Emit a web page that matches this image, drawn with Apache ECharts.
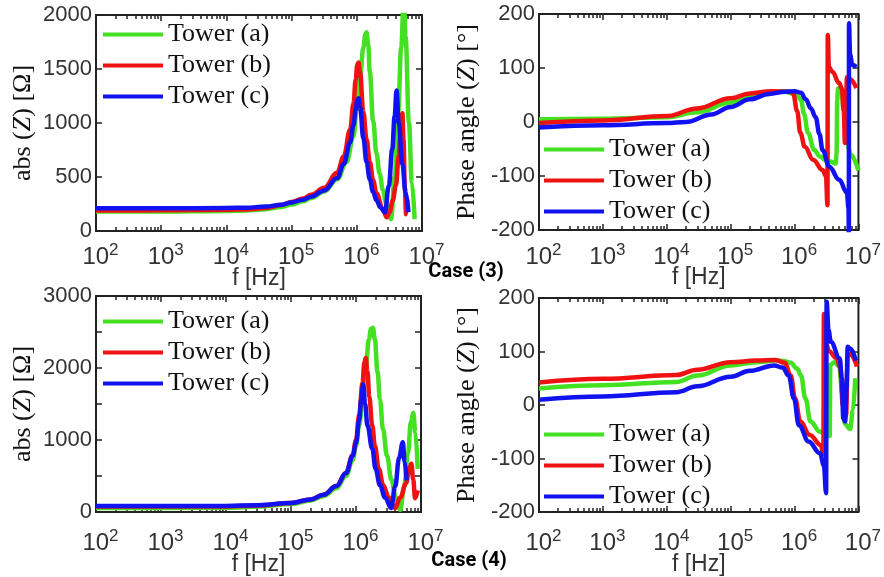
<!DOCTYPE html>
<html><head><meta charset="utf-8">
<script src="https://cdn.jsdelivr.net/npm/echarts@6/dist/echarts.min.js"></script>
<style>html,body{margin:0;padding:0;background:#fff}#c{width:884px;height:577px}</style>
</head><body><div id="c"></div>
<script>
const towerNames = ['Tower (a)', 'Tower (b)', 'Tower (c)'];

// Case (3) |Z| [Ohm] vs f [Hz]
const case3AbsA = [[100,180],[1e3,181],[1e4,186],[2e4,190],[4e4,202],[7e4,222],[1e5,245],[1.5e5,275],[2e5,305],[3.16e5,365],[5e5,480],[7e5,640],[8.9e5,880],[1e6,1120],[1.12e6,1420],[1.26e6,1700],[1.35e6,1820],[1.41e6,1840],[1.5e6,1720],[1.58e6,1480],[1.78e6,1020],[2e6,720],[2.24e6,530],[2.51e6,380],[2.82e6,260],[3.16e6,150],[3.35e6,110],[3.8e6,500],[4.3e6,1100],[4.8e6,1700],[5.25e6,2150],[5.6e6,1800],[6.3e6,1000],[7.0e6,450],[7.7e6,110]];
const case3AbsB = [[100,190],[1e3,191],[1e4,196],[2e4,200],[4e4,214],[7e4,240],[1e5,268],[1.5e5,300],[2e5,335],[3.16e5,400],[5e5,540],[6.3e5,690],[7.9e5,940],[8.9e5,1180],[9.6e5,1400],[1.02e6,1540],[1.06e6,1560],[1.12e6,1470],[1.26e6,1100],[1.41e6,850],[1.58e6,640],[1.78e6,470],[2e6,350],[2.51e6,200],[2.88e6,127],[3.16e6,170],[3.55e6,280],[3.98e6,420],[4.4e6,700],[4.8e6,1000],[5.0e6,1090],[5.2e6,850],[5.45e6,400],[5.7e6,155],[5.95e6,290]];
const case3AbsC = [[100,210],[1e3,210],[1e4,213],[2e4,216],[4e4,226],[7e4,244],[1e5,265],[1.5e5,290],[2e5,318],[3.16e5,375],[5e5,490],[6.3e5,620],[7.9e5,820],[8.9e5,980],[9.6e5,1120],[1.02e6,1210],[1.06e6,1230],[1.12e6,1150],[1.26e6,860],[1.41e6,640],[1.58e6,480],[1.78e6,360],[2e6,285],[2.3e6,220],[2.7e6,173],[3.1e6,420],[3.5e6,760],[3.8e6,1060],[4.07e6,1300],[4.4e6,1000],[5.0e6,620],[5.6e6,360],[6.2e6,173]];

// Case (3) phase [deg]
const case3PhaseA = [[100,5],[1e3,6],[1e4,9],[3e4,18],[1e5,36],[2e5,47],[3.16e5,53],[5e5,56],[7e5,56],[1e6,52],[1.12e6,47],[1.26e6,41],[1.41e6,15],[1.62e6,-20],[2.04e6,-52],[2.5e6,-64],[3e6,-70],[3.6e6,-73],[4.4e6,-77],[4.55e6,-60],[4.65e6,40],[4.8e6,62],[5.4e6,62],[5.9e6,20],[6.6e6,-35],[7.5e6,-60],[1e7,-90]];
const case3PhaseB = [[100,-2],[1e3,3],[1e4,11],[3e4,25],[1e5,44],[2e5,53],[4.3e5,57],[8.5e5,56],[9.5e5,53],[1.1e6,20],[1.23e6,-20],[1.45e6,-46],[1.95e6,-70],[2.75e6,-89],[3.1e6,-100],[3.28e6,-154],[3.31e6,161],[3.45e6,102],[3.9e6,93],[5.0e6,72],[5.5e6,62],[5.9e6,20],[6.15e6,-39],[6.35e6,-10],[6.6e6,83],[7.2e6,80],[9.3e6,63]];
const case3PhaseC = [[100,-10],[1e3,-6],[1e4,-2],[2e4,0],[5e4,14],[1e5,28],[2e5,42],[4e5,52],[7e5,56],[1e6,57],[1.26e6,54],[1.5e6,42],[1.8e6,25],[2.14e6,9],[2.45e6,-22],[2.75e6,-52],[3.5e6,-83],[5e6,-107],[6.6e6,-131],[7.0e6,-160],[7.08e6,-215],[7.12e6,183],[7.4e6,125],[8e6,106],[9.3e6,102]];

// Case (4) |Z| [Ohm]
const case4AbsA = [[100,55],[1e3,55],[1e4,60],[3.16e4,75],[1e5,110],[2e5,160],[3.16e5,220],[5e5,330],[7e5,500],[8.9e5,720],[1e6,920],[1.12e6,1200],[1.26e6,1580],[1.41e6,2000],[1.58e6,2400],[1.7e6,2540],[1.82e6,2560],[1.95e6,2400],[2.14e6,1950],[2.34e6,1560],[2.6e6,1150],[3.0e6,780],[3.5e6,450],[4.1e6,200],[4.8e6,30],[5.5e6,350],[6.3e6,820],[7.0e6,1250],[7.6e6,1380],[8.2e6,1100],[8.9e6,600]];
const case4AbsB = [[100,75],[1e3,75],[1e4,78],[3.16e4,90],[1e5,125],[2e5,175],[3.16e5,240],[5e5,360],[7e5,540],[8.9e5,790],[1e6,1000],[1.12e6,1350],[1.26e6,1800],[1.35e6,2080],[1.41e6,2140],[1.5e6,1950],[1.6e6,1600],[1.78e6,1200],[1.95e6,920],[2.24e6,600],[2.63e6,370],[3.2e6,200],[4.0e6,55],[4.8e6,200],[5.9e6,400],[6.6e6,600],[7.1e6,670],[7.6e6,450],[8.1e6,190],[8.9e6,300]];
const case4AbsC = [[100,82],[1e3,82],[1e4,85],[3.16e4,95],[1e5,125],[2e5,175],[3.16e5,240],[5e5,360],[7e5,540],[8.9e5,780],[1e6,960],[1.12e6,1280],[1.2e6,1560],[1.29e6,1770],[1.38e6,1500],[1.5e6,1200],[1.78e6,880],[2.0e6,600],[2.34e6,370],[2.8e6,200],[3.47e6,55],[4.0e6,350],[4.6e6,750],[5.25e6,970],[5.6e6,700],[6.0e6,440]];

// Case (4) phase [deg]
const case4PhaseA = [[100,31],[1e3,37],[1.41e4,43],[3e4,55],[1e5,74],[2.5e5,80],[5e5,83],[7e5,82],[8.7e5,79],[1.1e6,68],[1.26e6,55],[1.48e6,12],[1.78e6,-31],[2.5e6,-50],[3e6,-53],[3.55e6,-58],[3.63e6,75],[4.2e6,80],[5e6,72],[5.6e6,20],[6.1e6,-35],[7.4e6,-45],[8.2e6,-10],[8.9e6,50]];
const case4PhaseB = [[100,42],[1e3,49],[1.41e4,56],[3e4,66],[1e5,80],[2.5e5,83],[5e5,84],[7e5,79],[8.7e5,55],[1.02e6,12],[1.23e6,-31],[1.74e6,-56],[2.57e6,-75],[2.83e6,-92],[2.88e6,170],[3.1e6,115],[3.5e6,100],[4.5e6,88],[5.2e6,70],[5.7e6,0],[6.0e6,-25],[6.4e6,-20],[6.8e6,92],[7.5e6,95],[9.5e6,72]];
const case4PhaseC = [[100,10],[1e3,16],[1.41e4,24],[3e4,35],[1e5,53],[2e5,64],[4.8e5,74],[6.5e5,70],[8.1e5,55],[9.8e5,12],[1.17e6,-38],[1.66e6,-68],[2.5e6,-90],[2.88e6,-113],[3.12e6,-165],[3.18e6,193],[3.4e6,140],[3.7e6,118],[5.1e6,87],[5.5e6,50],[5.8e6,-25],[6.2e6,-31],[6.5e6,30],[6.8e6,109],[7.5e6,105],[9.1e6,83]];

const absName = 'abs ({i|Z}) [Ω]';
const phaseName = 'Phase angle ({i|Z}) [°]';
const caseLabels = ['Case (3)', 'Case (4)'];
const lineColors = ['#44e022', '#f01212', '#1212f0'];

const panels = [
  {grid:{left:96, top:15, width:326, height:216}, y:{min:0, max:2000, interval:500, step:500}, name:absName, nameGap:60,
   data:[case3AbsA, case3AbsB, case3AbsC], legend:{left:103, top:19}, xMargin:11, xNameGap:36},
  {grid:{left:539, top:14, width:328, height:216}, y:{min:-200, max:200, interval:100, step:100}, name:phaseName, nameGap:59,
   data:[case3PhaseA, case3PhaseB, case3PhaseC], legend:{left:544, top:134}, xMargin:12, xNameGap:36},
  {grid:{left:96, top:296, width:325, height:218}, y:{min:0, max:3000, interval:500, step:1000}, name:absName, nameGap:60,
   data:[case4AbsA, case4AbsB, case4AbsC], legend:{left:103, top:306}, xMargin:16, xNameGap:41},
  {grid:{left:539, top:298, width:327, height:216}, y:{min:-200, max:200, interval:100, step:100}, name:phaseName, nameGap:59,
   data:[case4PhaseA, case4PhaseB, case4PhaseC], legend:{left:544, top:419}, xMargin:16, xNameGap:41}
];

const tickColor = '#222';
const xAxes = [], yAxes = [], series = [], legends = [];
panels.forEach((p, i) => {
  const base = {type:'log', logBase:10, min:100, max:1e7, gridIndex:i, splitLine:{show:false},
    axisLine:{show:false, onZero:false}, minorSplitLine:{show:false}};
  xAxes.push(Object.assign({}, base, {
    position:'bottom',
    axisTick:{show:true, inside:true, length:6, lineStyle:{color:tickColor, width:1.5}},
    minorTick:{show:true, splitNumber:9, length:4, lineStyle:{color:tickColor, width:1.5}},
    axisLabel:{show:true, margin:p.xMargin,
      formatter: v => '{p| }{b|10}{s|' + Math.round(Math.log10(v)) + '}',
      rich:{
        p:{width:9, fontSize:10},
        b:{fontFamily:'Liberation Sans', fontSize:24, color:'#333', lineHeight:30},
        s:{fontFamily:'Liberation Sans', fontSize:17, color:'#333', verticalAlign:'top', lineHeight:17}
      }},
    name:'f [Hz]', nameLocation:'middle', nameGap:p.xNameGap, nameMoveOverlap:false,
    nameTextStyle:{fontFamily:'Liberation Sans', fontSize:23, color:'#333'}
  }));
  xAxes.push(Object.assign({}, base, {
    position:'top',
    axisTick:{show:true, inside:true, length:6, lineStyle:{color:tickColor, width:1.5}},
    minorTick:{show:true, splitNumber:9, length:4, lineStyle:{color:tickColor, width:1.5}},
    axisLabel:{show:false}
  }));
  yAxes.push({
    type:'value', gridIndex:i, min:p.y.min, max:p.y.max, interval:p.y.interval, position:'left',
    splitLine:{show:false}, axisLine:{show:false, onZero:false},
    axisTick:{show:true, inside:true, length:6, lineStyle:{color:tickColor, width:1.5}},
    axisLabel:{margin:4, fontFamily:'Liberation Sans', fontSize:22, color:'#333',
      formatter: v => (v % p.y.step === 0 ? String(v) : '')},
    name:p.name, nameLocation:'middle', nameRotate:90, nameGap:p.nameGap, nameMoveOverlap:false,
    nameTextStyle:{fontFamily:'Liberation Serif', fontSize:26, color:'#111',
      rich:{i:{fontFamily:'Liberation Serif', fontSize:26, fontStyle:'italic', color:'#111'}}}
  });
  yAxes.push({
    type:'value', gridIndex:i, min:p.y.min, max:p.y.max, interval:p.y.interval, position:'right',
    splitLine:{show:false}, axisLine:{show:false, onZero:false},
    axisTick:{show:true, inside:true, length:6, lineStyle:{color:tickColor, width:1.5}},
    axisLabel:{show:false}
  });
  p.data.forEach((d, k) => {
    series.push({
      type:'line', name:towerNames[k], xAxisIndex:i*2, yAxisIndex:i*2, data:d,
      symbol:'none', smooth:0.4, smoothMonotone:'x', clip:true,
      color:lineColors[k], lineStyle:{width:4.5, color:lineColors[k]}, z:2+k
    });
  });
  legends.push({
    left:p.legend.left, top:p.legend.top, orient:'vertical', padding:0,
    icon:'rect', itemWidth:60, itemHeight:4, itemGap:0,
    data:towerNames, selectedMode:false,
    textStyle:{fontFamily:'Liberation Serif', fontSize:26, color:'#111', lineHeight:31}
  });
});

const chart = echarts.init(document.getElementById('c'), null, {renderer:'canvas'});
chart.setOption({
  animation:false,
  backgroundColor:'#fff',
  grid: panels.map(p => Object.assign({show:true, borderColor:'#222', borderWidth:2, backgroundColor:'transparent', containLabel:false}, p.grid)),
  xAxis: xAxes,
  yAxis: yAxes,
  legend: legends,
  series: series,
  graphic: [
    {type:'text', x:466, y:272, style:{text:caseLabels[0], font:'bold 20px Roboto', fill:'#000', textAlign:'center', textVerticalAlign:'middle'}},
    {type:'text', x:469, y:561, style:{text:caseLabels[1], font:'bold 20px Roboto', fill:'#000', textAlign:'center', textVerticalAlign:'middle'}}
  ]
});
</script></body></html>
